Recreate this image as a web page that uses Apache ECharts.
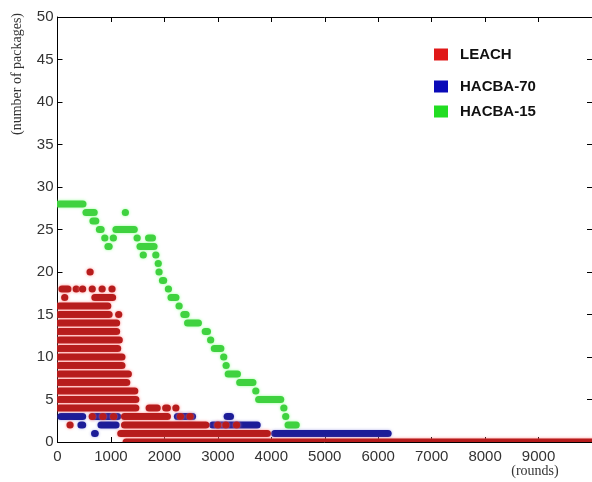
<!DOCTYPE html>
<html>
<head>
<meta charset="utf-8">
<script src="https://cdn.jsdelivr.net/npm/echarts@6/dist/echarts.min.js"></script>
<style>html,body{margin:0;padding:0;background:#fff;}#c{width:592px;height:482px;}</style>
</head>
<body>
<div id="c"></div>
<script>
// Axis settings
const xMin = 0, xMax = 10000, xStep = 1000;
const yMin = 0, yMax = 50, yStep = 5;
const seriesNames = ['LEACH', 'HACBA-70', 'HACBA-15'];

// Runs of points: [packages, firstRound, lastRound] (centres of the dots)
const leachRuns = [
  [20, 610, 610],
  [18, 85, 195], [18, 350, 350], [18, 470, 470], [18, 650, 650], [18, 835, 835], [18, 1020, 1020],
  [17, 135, 135], [17, 700, 1030],
  [16, 40, 940],
  [15, 40, 965], [15, 1145, 1145],
  [14, 40, 1105],
  [13, 40, 1105],
  [12, 40, 1155],
  [11, 40, 1125],
  [10, 40, 1205],
  [9, 40, 1205],
  [8, 40, 1325],
  [7, 40, 1295],
  [6, 40, 1445],
  [5, 40, 1465],
  [4, 40, 1465], [4, 1715, 1865], [4, 2025, 2055], [4, 2215, 2215],
  [3, 650, 650], [3, 850, 850], [3, 1050, 1050], [3, 1255, 2055], [3, 2300, 2300], [3, 2480, 2480],
  [2, 235, 235], [2, 1255, 2775], [2, 3000, 3000], [2, 3150, 3150], [2, 3350, 3350],
  [1, 1185, 3925],
  [0, 1285, 10000]
];
const hacba70Runs = [
  [3, 65, 470], [3, 665, 1125], [3, 2245, 2525], [3, 3175, 3235],
  [2, 440, 470], [2, 815, 1095], [2, 2905, 3735],
  [1, 695, 705], [1, 4065, 6185]
];
const hacba15Runs = [
  [28, 40, 475],
  [27, 535, 685], [27, 1270, 1270],
  [26, 665, 715],
  [25, 785, 815], [25, 1095, 1435],
  [24, 885, 885], [24, 1045, 1045], [24, 1490, 1490], [24, 1705, 1775],
  [23, 945, 965], [23, 1545, 1805],
  [22, 1605, 1605], [22, 1840, 1840],
  [21, 1885, 1885],
  [20, 1900, 1900],
  [19, 1965, 1985],
  [18, 2075, 2075],
  [17, 2125, 2215],
  [16, 2275, 2275],
  [15, 2365, 2405],
  [14, 2435, 2635],
  [13, 2765, 2805],
  [12, 2865, 2865],
  [11, 2935, 3055],
  [10, 3110, 3110],
  [9, 3155, 3155],
  [8, 3195, 3365],
  [7, 3410, 3655],
  [6, 3710, 3710],
  [5, 3765, 4175],
  [4, 4235, 4235],
  [3, 4270, 4270],
  [2, 4315, 4465]
];

const chart = echarts.init(document.getElementById('c'), null, {renderer: 'canvas'});

function makeRender(fill, glow) {
  return function (params, api) {
    const y = api.value(0), x0 = api.value(1), x1 = api.value(2);
    const p0 = api.coord([x0, y]);
    const p1 = api.coord([x1, y]);
    const h = 7.2, r = h / 2;
    const left = p0[0] - r, right = p1[0] + r;
    return {
      type: 'rect',
      shape: {x: left, y: p0[1] - h / 2, width: right - left, height: h, r: r},
      style: {fill: fill, shadowBlur: 3, shadowColor: glow}
    };
  };
}

function runSeries(name, data, legendColor, fill, glow, z) {
  return {
    name: name,
    type: 'custom',
    xAxisIndex: 0,
    yAxisIndex: 0,
    clip: true,
    z: z,
    itemStyle: {color: legendColor},
    encode: {x: [1, 2], y: 0},
    renderItem: makeRender(fill, glow),
    data: data
  };
}

const axisLineStyle = {show: true, onZero: false, lineStyle: {color: '#000', width: 1}};
const tickStyle = {show: true, inside: true, length: 5, lineStyle: {color: '#000', width: 1}};
const labelFont = {color: '#333', fontSize: 15, fontFamily: '"Liberation Sans", Arial, sans-serif'};
const plainNumber = function (v) { return String(v); };

function legendFor(name, top) {
  return {
    data: [name],
    left: 434,
    top: top,
    padding: 0,
    icon: 'rect',
    itemWidth: 14,
    itemHeight: 12,
    selectedMode: false,
    textStyle: {color: '#111', fontSize: 15, fontWeight: 'bold', fontFamily: '"Liberation Sans", Arial, sans-serif', padding: [0, 0, 0, 7]}
  };
}

const option = {
  animation: false,
  backgroundColor: '#ffffff',
  grid: {left: 57.5, right: -2.5, top: 17, bottom: 40},
  legend: [legendFor(seriesNames[0], 47), legendFor(seriesNames[1], 79), legendFor(seriesNames[2], 104)],
  xAxis: [
    {type: 'value', min: xMin, max: xMax, interval: xStep, position: 'bottom',
     axisLine: axisLineStyle, axisTick: tickStyle,
     axisLabel: Object.assign({margin: 7, showMaxLabel: false, formatter: plainNumber}, labelFont),
     splitLine: {show: false}},
    {type: 'value', min: xMin, max: xMax, interval: xStep, position: 'top',
     axisLine: axisLineStyle, axisTick: tickStyle, axisLabel: {show: false}, splitLine: {show: false}}
  ],
  yAxis: [
    {type: 'value', min: yMin, max: yMax, interval: yStep, position: 'left',
     axisLine: axisLineStyle, axisTick: tickStyle,
     axisLabel: Object.assign({margin: 4, formatter: plainNumber}, labelFont),
     splitLine: {show: false}},
    {type: 'value', min: yMin, max: yMax, interval: yStep, position: 'right',
     axisLine: axisLineStyle, axisTick: tickStyle, axisLabel: {show: false}, splitLine: {show: false}}
  ],
  graphic: [
    {type: 'text', x: 17, y: 74, rotation: Math.PI / 2,
     style: {text: '(number of packages)', font: '14px "Liberation Serif", "Times New Roman", serif', fill: '#333', align: 'center', verticalAlign: 'middle'}},
    {type: 'text', x: 535, y: 471,
     style: {text: '(rounds)', font: '14px "Liberation Serif", "Times New Roman", serif', fill: '#333', align: 'center', verticalAlign: 'middle'}}
  ],
  series: [
    runSeries(seriesNames[2], hacba15Runs, '#22dd22', '#3fd23f', 'rgba(140,255,140,0.9)', 2),
    runSeries(seriesNames[1], hacba70Runs, '#0a0ab8', '#1c1c98', 'rgba(120,120,220,0.6)', 3),
    runSeries(seriesNames[0], leachRuns, '#e01818', '#b71c1c', 'rgba(255,130,130,0.9)', 4)
  ]
};
chart.setOption(option);
</script>
</body>
</html>
